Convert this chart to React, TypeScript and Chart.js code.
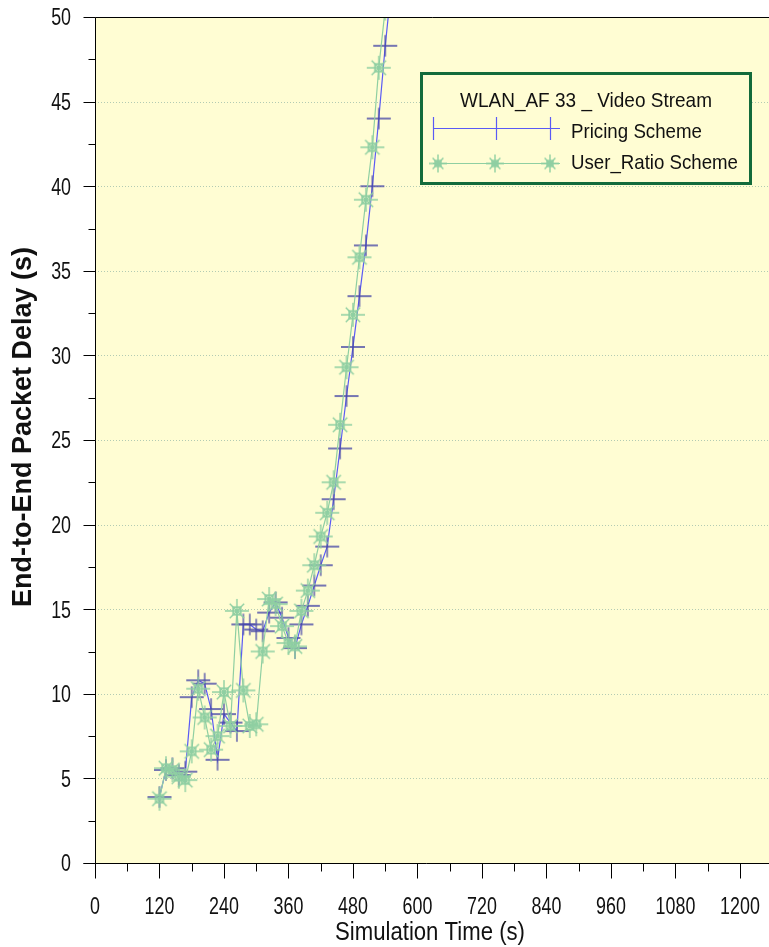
import React, { useEffect, useRef } from 'react';
import { Chart, registerables } from 'chart.js';

Chart.register(...registerables);

// ---------- data ----------
const legendTitle = 'WLAN_AF 33 _ Video Stream';
const pricingLabel = 'Pricing Scheme';
const userRatioLabel = 'User_Ratio Scheme';
const xAxisTitle = 'Simulation Time (s)';
const yAxisTitle = 'End-to-End Packet Delay (s)';

const sampleTimes = [
  120, 132, 144, 156, 168, 180, 192, 204, 216, 228, 240, 252, 264, 276, 288, 300, 312, 324,
  336, 348, 360, 372, 384, 396, 408, 420, 432, 444, 456, 468, 480, 492, 504, 516, 528, 540, 552,
];
const pricingDelay = [
  3.9, 5.5, 5.6, 5.2, 5.4, 9.8, 10.8, 10.6, 9.1, 6.1, 8.8, 8.3, 7.8, 14.1, 14.1, 13.8, 13.7, 14.8,
  15.4, 14.5, 13.3, 12.7, 14.1, 15.2, 16.4, 17.6, 18.7, 21.5, 24.5, 27.6, 30.5, 33.5, 36.5, 40.0, 44.0, 48.3, 52.0,
];
const userRatioDelay = [
  3.8, 5.6, 5.5, 5.1, 4.9, 6.6, 10.3, 8.6, 6.7, 7.5, 10.1, 8.1, 14.9, 10.2, 8.1, 8.2, 12.5, 15.6,
  15.3, 14.0, 13.0, 12.8, 14.9, 16.1, 17.6, 19.3, 20.7, 22.5, 25.9, 29.3, 32.4, 35.8, 39.2, 42.3, 47.0, 50.5, 54.0,
];
const xTickValues = [0, 120, 240, 360, 480, 600, 720, 840, 960, 1080, 1200];
const yTickValues = [0, 5, 10, 15, 20, 25, 30, 35, 40, 45, 50];

// ---------- styles ----------
const W = 769;
const H = 947;
const PLOT_BG = '#FFFDD3';
const GRID_COLOR = '#b3cbb3';
const BLUE_LINE = '#5a5af5';
const CROSS_COLOR = '#4a4aa8';
const GREEN = '#8fcfa2';
const LEGEND_BORDER = '#136b3b';
const TEXT_COLOR = '#111';
const SANS = '"Liberation Sans", Arial, sans-serif';

function narrowText(
  ctx: CanvasRenderingContext2D,
  text: string,
  x: number,
  y: number,
  size: number,
  align: CanvasTextAlign,
  opts: { sx?: number; width?: number; bold?: boolean; rotate?: number } = {}
) {
  ctx.save();
  ctx.font = `${opts.bold ? 'bold ' : ''}${size}px ${SANS}`;
  let sx = opts.sx ?? 1;
  if (opts.width) sx = opts.width / ctx.measureText(text).width;
  ctx.translate(x, y);
  if (opts.rotate) ctx.rotate(opts.rotate);
  ctx.scale(sx, 1);
  ctx.textAlign = align;
  ctx.textBaseline = 'alphabetic';
  ctx.fillStyle = TEXT_COLOR;
  ctx.fillText(text, 0, 0);
  ctx.restore();
}

function makeCross(r: number, color: string) {
  const c = document.createElement('canvas');
  const s = Math.ceil(r * 2 + 2);
  c.width = s;
  c.height = s;
  const ctx = c.getContext('2d')!;
  const m = s / 2;
  ctx.strokeStyle = color;
  ctx.lineWidth = 1.3;
  ctx.beginPath();
  ctx.moveTo(m - r, m);
  ctx.lineTo(m + r, m);
  ctx.moveTo(m, m - r * 0.9);
  ctx.lineTo(m, m + r * 0.9);
  ctx.stroke();
  return c;
}

function makeStar(r: number, color: string) {
  const c = document.createElement('canvas');
  const s = Math.ceil(r * 2 + 2);
  c.width = s;
  c.height = s;
  const ctx = c.getContext('2d')!;
  const m = s / 2;
  ctx.strokeStyle = color;
  ctx.lineWidth = 1.4;
  ctx.beginPath();
  for (let i = 0; i < 8; i++) {
    const a = (i * Math.PI) / 4;
    const len = i % 2 === 0 ? r : r * 0.85;
    ctx.moveTo(m, m);
    ctx.lineTo(m + Math.cos(a) * len, m + Math.sin(a) * len);
  }
  ctx.stroke();
  const q = r * 0.32;
  ctx.lineWidth = 1.6;
  ctx.strokeRect(m - q, m - q, q * 2, q * 2);
  return c;
}

const framePlugin = {
  id: 'frame',
  beforeDraw(chart: any) {
    const { ctx, chartArea } = chart;
    const { left, top, right, bottom } = chartArea;
    ctx.save();
    ctx.fillStyle = PLOT_BG;
    ctx.fillRect(left, top, right - left, bottom - top);
    const ys = chart.scales.y;
    ctx.strokeStyle = GRID_COLOR;
    ctx.lineWidth = 1;
    ctx.setLineDash([1, 2]);
    for (const v of yTickValues) {
      if (v === ys.min || v === ys.max) continue;
      const py = Math.round(ys.getPixelForValue(v)) + 0.5;
      ctx.beginPath();
      ctx.moveTo(left, py);
      ctx.lineTo(right, py);
      ctx.stroke();
    }
    ctx.restore();
  },
  afterDatasetsDraw(chart: any) {
    const { ctx, chartArea } = chart;
    const { left, top, right, bottom } = chartArea;
    const xs = chart.scales.x;
    const ys = chart.scales.y;
    ctx.save();
    ctx.strokeStyle = '#000';
    ctx.lineWidth = 1;
    const L = Math.round(left) + 0.5;
    const B = Math.round(bottom) + 0.5;
    const T = Math.round(top) + 0.5;
    ctx.beginPath();
    ctx.moveTo(L, T);
    ctx.lineTo(right, T);
    ctx.moveTo(L, T);
    ctx.lineTo(L, B);
    ctx.moveTo(L - 12, B);
    ctx.lineTo(right, B);
    for (let t = 0; t <= xs.max; t += 60) {
      const px = Math.round(xs.getPixelForValue(t)) + 0.5;
      const major = t % 120 === 0;
      ctx.moveTo(px, B);
      ctx.lineTo(px, B + (major ? 15 : 8));
    }
    for (let v = 0; v <= ys.max + 0.001; v += 2.5) {
      const py = Math.round(ys.getPixelForValue(v)) + 0.5;
      const major = Math.abs(v % 5) < 0.001;
      ctx.moveTo(L - (major ? 12 : 7), py);
      ctx.lineTo(L, py);
    }
    ctx.stroke();
    ctx.restore();

    for (const t of xTickValues) {
      narrowText(ctx, String(t), xs.getPixelForValue(t), 914, 23.5, 'center', { sx: 0.76 });
    }
    for (const v of yTickValues) {
      narrowText(ctx, String(v), 71, ys.getPixelForValue(v) + 8.4, 23.5, 'right', { sx: 0.76 });
    }
    narrowText(ctx, xAxisTitle, 430, 940, 25, 'center', { width: 190 });
    narrowText(ctx, yAxisTitle, 31, 427, 27, 'center', { bold: true, rotate: -Math.PI / 2 });
  },
  afterDraw(chart: any) {
    const { ctx } = chart;
    ctx.save();
    const bx = 420, by = 72, bw = 332, bh = 113;
    ctx.fillStyle = PLOT_BG;
    ctx.fillRect(bx, by, bw, bh);
    ctx.strokeStyle = LEGEND_BORDER;
    ctx.lineWidth = 3;
    ctx.strokeRect(bx + 1.5, by + 1.5, bw - 3, bh - 3);
    ctx.restore();

    narrowText(ctx, legendTitle, 586, 106.5, 21, 'center', { width: 252 });
    narrowText(ctx, pricingLabel, 571, 137.5, 21, 'left', { width: 131 });
    narrowText(ctx, userRatioLabel, 571, 169, 21, 'left', { width: 167 });

    ctx.save();
    ctx.strokeStyle = BLUE_LINE;
    ctx.lineWidth = 1;
    ctx.beginPath();
    ctx.moveTo(433, 128.5);
    ctx.lineTo(560, 128.5);
    ctx.stroke();
    ctx.lineWidth = 1.2;
    for (const cx of [433, 496, 550]) {
      ctx.beginPath();
      ctx.moveTo(cx + 0.5, 117);
      ctx.lineTo(cx + 0.5, 140);
      ctx.stroke();
    }
    ctx.strokeStyle = GREEN;
    ctx.lineWidth = 1;
    ctx.beginPath();
    ctx.moveTo(433, 163.5);
    ctx.lineTo(560, 163.5);
    ctx.stroke();
    const star = makeStar(9, GREEN);
    for (const cx of [438, 495, 550]) {
      ctx.drawImage(star, cx - star.width / 2, 163.5 - star.height / 2);
    }
    ctx.restore();
  },
};

export default function App() {
  const ref = useRef<HTMLCanvasElement | null>(null);
  useEffect(() => {
    if (!ref.current) return;
    const crossImg = makeCross(12, CROSS_COLOR);
    const starImg = makeStar(12, GREEN);
    const chart = new Chart(ref.current, {
      type: 'line',
      data: {
        datasets: [
          {
            label: userRatioLabel,
            data: sampleTimes.map((t, i) => ({ x: t, y: userRatioDelay[i] })),
            borderColor: GREEN,
            borderWidth: 1.2,
            pointStyle: starImg as any,
            pointRadius: 12,
            tension: 0,
            order: 0,
          },
          {
            label: pricingLabel,
            data: sampleTimes.map((t, i) => ({ x: t, y: pricingDelay[i] })),
            borderColor: BLUE_LINE,
            borderWidth: 1.2,
            pointStyle: crossImg as any,
            pointRadius: 12,
            tension: 0,
            order: 1,
          },
        ],
      },
      options: {
        responsive: false,
        animation: false,
        devicePixelRatio: 1,
        layout: { autoPadding: false, padding: { top: 17, left: 0, right: 0, bottom: 0 } },
        plugins: { legend: { display: false }, tooltip: { enabled: false } },
        scales: {
          x: {
            type: 'linear',
            min: 0,
            max: 1254,
            grid: { display: false, drawTicks: false },
            border: { display: false },
            ticks: { display: false },
            title: { display: false, text: xAxisTitle },
            afterFit: (s: any) => {
              s.height = 84;
              s.paddingLeft = 0;
              s.paddingRight = 0;
            },
          },
          y: {
            type: 'linear',
            min: 0,
            max: 50,
            grid: { display: false, drawTicks: false },
            border: { display: false },
            ticks: { display: false },
            title: { display: false, text: yAxisTitle },
            afterFit: (s: any) => {
              s.width = 95;
              s.paddingTop = 0;
              s.paddingBottom = 0;
            },
          },
        },
      },
      plugins: [framePlugin],
    });
    return () => chart.destroy();
  }, []);
  return (
    <div style={{ position: 'absolute', left: 0, top: 0, width: W, height: H, background: '#fff' }}>
      <canvas ref={ref} width={W} height={H} style={{ width: W, height: H, display: 'block' }} />
    </div>
  );
}
